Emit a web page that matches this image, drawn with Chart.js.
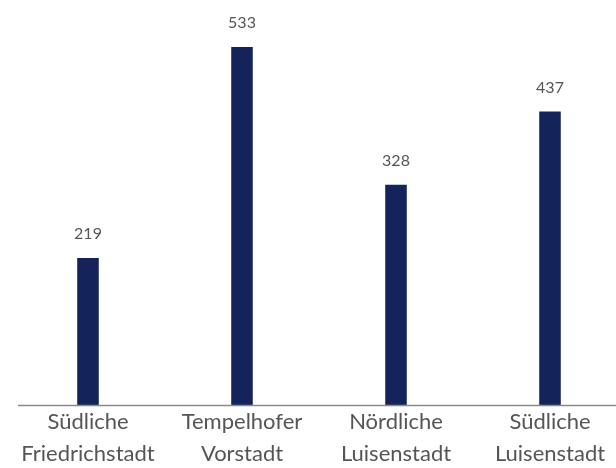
<!DOCTYPE html>
<html>
<head>
<meta charset="utf-8">
<script src="https://cdn.jsdelivr.net/npm/chart.js@4/dist/chart.umd.min.js"></script>
<style>
html,body{margin:0;padding:0;background:#fff;overflow:hidden;width:616px;height:468px;}
#wrap{width:640px;height:468px;}
</style>
</head>
<body>
<div id="wrap"><canvas id="c" width="640" height="468"></canvas></div>
<script>
const categories = [["Südliche","Friedrichstadt"],["Tempelhofer","Vorstadt"],["Nördliche","Luisenstadt"],["Südliche","Luisenstadt"]];
const values = [219, 533, 328, 437];

const FONT = "Lato, 'Noto Sans', sans-serif";
const TEXT = "#555555";
const BAR = "#142359";

const valueLabels = {
  id: 'valueLabels',
  afterDatasetsDraw(chart) {
    const ctx = chart.ctx;
    const meta = chart.getDatasetMeta(0);
    ctx.save();
    ctx.font = "16px " + FONT;
    ctx.fillStyle = TEXT;
    ctx.textAlign = "center";
    ctx.textBaseline = "middle";
    meta.data.forEach((bar, i) => {
      ctx.fillText(String(values[i]), bar.x, bar.y - 24);
    });
    ctx.restore();
  }
};

const baseline = {
  id: 'baseline',
  afterDatasetsDraw(chart) {
    const ctx = chart.ctx;
    const y = chart.scales.y.getPixelForValue(0);
    ctx.save();
    ctx.strokeStyle = "#8a8a8a";
    ctx.lineWidth = 1.5;
    ctx.beginPath();
    ctx.moveTo(18, y + 0.5);
    ctx.lineTo(chart.width, y + 0.5);
    ctx.stroke();
    ctx.restore();
  }
};

new Chart(document.getElementById('c'), {
  type: 'bar',
  data: {
    labels: categories,
    datasets: [{
      data: values,
      backgroundColor: BAR,
      barPercentage: 0.14,
      categoryPercentage: 1.0
    }]
  },
  options: {
    responsive: false,
    animation: false,
    layout: { padding: { left: 11, right: 13, top: 2, bottom: 0 } },
    plugins: { legend: { display: false }, tooltip: { enabled: false } },
    scales: {
      x: {
        grid: { display: false, drawTicks: false },
        border: { display: false },
        afterFit(scale) { scale.height = 63; },
        ticks: {
          color: TEXT,
          font: { family: FONT, size: 22, lineHeight: 1.45 },
          padding: 1,
          maxRotation: 0,
          autoSkip: false
        }
      },
      y: {
        display: false,
        min: 0,
        max: 600
      }
    }
  },
  plugins: [valueLabels, baseline]
});
</script>
</body>
</html>
